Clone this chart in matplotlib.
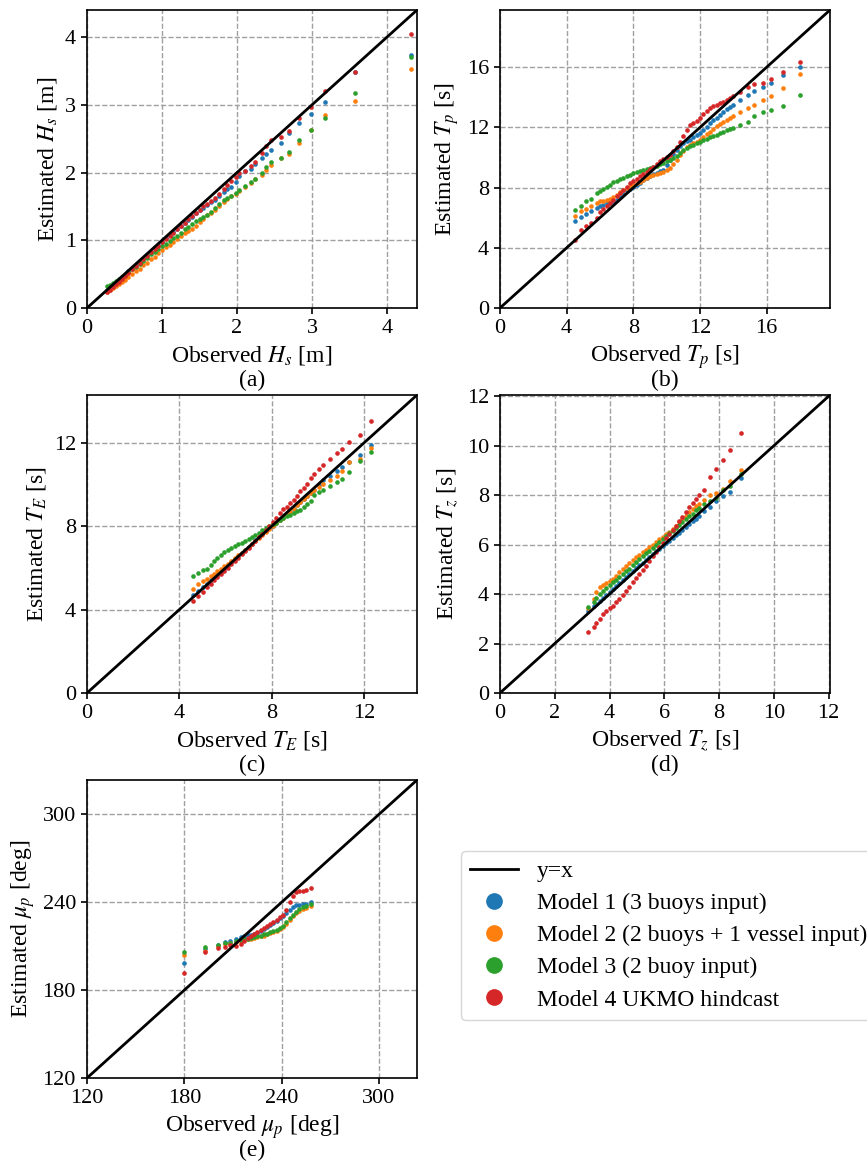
import matplotlib
matplotlib.use("Agg")
import matplotlib.pyplot as plt
from matplotlib.lines import Line2D

plt.rcParams["font.family"] = ["Liberation Serif", "DejaVu Serif"]
plt.rcParams["mathtext.fontset"] = "stix"
plt.rcParams["font.size"] = 16

MODEL_LABELS = ["Model 1 (3 buoys input)",
                "Model 2 (2 buoys + 1 vessel input)",
                "Model 3 (2 buoy input)",
                "Model 4 UKMO hindcast"]
MODEL_COLORS = ["tab:blue", "tab:orange", "tab:green", "tab:red"]

# --- (a) significant wave height Hs [m], quantiles ---
hs_obs = [0.26, 0.30, 0.34, 0.38, 0.42, 0.46, 0.50, 0.55, 0.60, 0.65,
          0.70, 0.75, 0.80, 0.85, 0.90, 0.95, 1.00, 1.05, 1.10, 1.15,
          1.20, 1.25, 1.30, 1.35, 1.40, 1.45, 1.50, 1.55, 1.60, 1.65,
          1.70, 1.76, 1.82, 1.87, 1.92, 1.98, 2.03, 2.10, 2.18, 2.24,
          2.33, 2.39, 2.45, 2.58, 2.69, 2.83, 2.99, 3.17, 3.57, 4.32]
hs_m1 = [0.26, 0.29, 0.33, 0.37, 0.41, 0.45, 0.49, 0.54, 0.59, 0.64,
         0.68, 0.73, 0.78, 0.83, 0.88, 0.93, 0.98, 1.03, 1.08, 1.12,
         1.17, 1.21, 1.26, 1.30, 1.35, 1.40, 1.44, 1.48, 1.52, 1.56,
         1.60, 1.66, 1.72, 1.76, 1.79, 1.86, 1.95, 2.02, 2.05, 2.13,
         2.21, 2.27, 2.34, 2.44, 2.59, 2.73, 2.86, 3.04, 3.49, 3.73]
hs_m2 = [0.23, 0.26, 0.29, 0.32, 0.35, 0.39, 0.42, 0.46, 0.50, 0.54,
         0.58, 0.63, 0.67, 0.72, 0.76, 0.81, 0.86, 0.90, 0.93, 0.97,
         1.02, 1.06, 1.11, 1.14, 1.17, 1.21, 1.27, 1.32, 1.37, 1.41,
         1.45, 1.51, 1.57, 1.61, 1.65, 1.69, 1.73, 1.79, 1.85, 1.90,
         1.97, 2.04, 2.11, 2.21, 2.28, 2.44, 2.63, 2.85, 3.05, 3.53]
hs_m3 = [0.32, 0.34, 0.37, 0.40, 0.43, 0.46, 0.49, 0.53, 0.57, 0.61,
         0.65, 0.70, 0.74, 0.79, 0.83, 0.87, 0.91, 0.95, 0.99, 1.03,
         1.07, 1.11, 1.16, 1.20, 1.24, 1.28, 1.32, 1.35, 1.38, 1.42,
         1.47, 1.54, 1.59, 1.63, 1.66, 1.70, 1.74, 1.80, 1.86, 1.91,
         2.00, 2.08, 2.15, 2.21, 2.31, 2.48, 2.63, 2.81, 3.17, 3.71]
hs_m4 = [0.24, 0.27, 0.31, 0.35, 0.39, 0.43, 0.47, 0.52, 0.57, 0.62,
         0.67, 0.72, 0.77, 0.82, 0.87, 0.92, 0.97, 1.02, 1.07, 1.11,
         1.16, 1.21, 1.26, 1.31, 1.36, 1.41, 1.45, 1.50, 1.53, 1.58,
         1.63, 1.69, 1.76, 1.82, 1.87, 1.93, 1.99, 2.03, 2.09, 2.16,
         2.29, 2.39, 2.48, 2.53, 2.62, 2.80, 2.97, 3.20, 3.49, 4.05]

# --- (b) peak period Tp [s] ---
tp_obs = [4.50, 4.86, 5.14, 5.46, 5.80, 6.0, 6.2, 6.4, 6.6, 6.8,
          7.0, 7.2, 7.4, 7.6, 7.8, 8.0, 8.2, 8.4, 8.6, 8.8,
          9.0, 9.2, 9.4, 9.6, 9.8, 10.0, 10.2, 10.4, 10.6, 10.8,
          11.0, 11.2, 11.4, 11.6, 11.8, 12.0, 12.2, 12.4, 12.6, 12.8,
          13.0, 13.2, 13.4, 13.6, 13.8, 14.0, 14.4, 14.86, 15.24, 15.76,
          16.26, 16.96, 18.0]
tp_m1 = [5.76, 6.02, 6.27, 6.42, 6.62, 6.75, 6.86, 6.95, 7.00, 7.08,
         7.20, 7.40, 7.60, 7.75, 7.90, 8.06, 8.20, 8.33, 8.48, 8.62,
         8.76, 8.88, 8.98, 9.08, 9.20, 9.50, 9.85, 10.20, 10.50, 10.75,
         10.95, 11.08, 11.18, 11.35, 11.48, 11.60, 11.82, 12.05, 12.28, 12.46,
         12.65, 12.83, 13.00, 13.20, 13.38, 13.52, 13.83, 14.16, 14.45, 14.70,
         14.98, 15.45, 16.00]
tp_m2 = [6.13, 6.42, 6.57, 6.75, 6.98, 7.08, 7.13, 7.17, 7.25, 7.35,
         7.50, 7.70, 7.86, 7.97, 8.08, 8.18, 8.30, 8.40, 8.52, 8.63,
         8.74, 8.82, 8.88, 8.94, 9.02, 9.15, 9.32, 9.55, 9.85, 10.18,
         10.45, 10.68, 10.85, 10.95, 11.03, 11.15, 11.35, 11.55, 11.72, 11.90,
         12.10, 12.22, 12.38, 12.52, 12.63, 12.76, 13.00, 13.30, 13.50, 13.79,
         14.10, 14.60, 15.54]
tp_m3 = [6.49, 6.75, 7.08, 7.24, 7.64, 7.80, 7.92, 8.05, 8.20, 8.35,
         8.45, 8.58, 8.67, 8.76, 8.85, 8.94, 9.03, 9.10, 9.16, 9.22,
         9.30, 9.37, 9.45, 9.55, 9.65, 9.74, 9.85, 9.97, 10.10, 10.30,
         10.48, 10.66, 10.78, 10.86, 10.93, 11.00, 11.14, 11.24, 11.33, 11.42,
         11.50, 11.60, 11.70, 11.80, 11.88, 11.98, 12.16, 12.36, 12.75, 13.00,
         13.17, 13.43, 14.12]
tp_m4 = [4.55, 5.20, 5.42, 5.65, 5.98, 6.35, 6.55, 6.75, 6.97, 7.20,
         7.42, 7.64, 7.86, 8.05, 8.30, 8.45, 8.59, 8.76, 8.90, 9.05,
         9.22, 9.38, 9.57, 9.76, 9.92, 10.05, 10.18, 10.40, 10.70, 11.00,
         11.40, 11.85, 12.15, 12.28, 12.42, 12.60, 12.90, 13.12, 13.30, 13.40,
         13.52, 13.60, 13.72, 13.84, 13.94, 14.08, 14.35, 14.67, 14.87, 14.98,
         15.20, 15.65, 16.33]

# --- (c) energy period TE [s] ---
te_obs = [4.59, 4.81, 5.03, 5.18, 5.36, 5.50, 5.65, 5.80, 5.95, 6.10,
          6.25, 6.40, 6.55, 6.70, 6.85, 7.00, 7.15, 7.30, 7.45, 7.60,
          7.75, 7.90, 8.05, 8.20, 8.35, 8.50, 8.65, 8.80, 8.95, 9.10,
          9.25, 9.40, 9.55, 9.70, 9.85, 10.05, 10.24, 10.53, 10.82, 11.06,
          11.35, 11.83, 12.29]
te_m1 = [4.72, 4.91, 5.10, 5.25, 5.42, 5.55, 5.68, 5.82, 5.97, 6.12,
         6.27, 6.42, 6.57, 6.72, 6.88, 7.02, 7.17, 7.32, 7.47, 7.62,
         7.76, 7.90, 8.03, 8.16, 8.30, 8.43, 8.57, 8.70, 8.85, 9.00,
         9.15, 9.30, 9.45, 9.60, 9.76, 10.00, 10.20, 10.43, 10.64, 10.85,
         11.09, 11.40, 11.92]
te_m2 = [5.00, 5.25, 5.36, 5.47, 5.60, 5.72, 5.84, 5.96, 6.08, 6.20,
         6.33, 6.46, 6.60, 6.74, 6.88, 7.02, 7.16, 7.30, 7.44, 7.58,
         7.72, 7.86, 8.00, 8.14, 8.28, 8.42, 8.56, 8.70, 8.85, 9.00,
         9.15, 9.30, 9.45, 9.60, 9.72, 9.90, 10.05, 10.20, 10.43, 10.64,
         11.10, 11.23, 11.74]
te_m3 = [5.60, 5.76, 5.89, 5.97, 6.16, 6.32, 6.48, 6.60, 6.76, 6.88,
         6.98, 7.06, 7.14, 7.22, 7.30, 7.39, 7.48, 7.59, 7.70, 7.80,
         7.90, 8.02, 8.10, 8.18, 8.28, 8.38, 8.47, 8.55, 8.63, 8.72,
         8.80, 8.91, 9.05, 9.20, 9.52, 9.63, 9.76, 9.95, 10.11, 10.29,
         10.60, 11.12, 11.58]
te_m4 = [4.40, 4.67, 4.83, 5.07, 5.25, 5.40, 5.55, 5.70, 5.86, 6.02,
         6.18, 6.34, 6.50, 6.66, 6.82, 6.98, 7.14, 7.30, 7.47, 7.64,
         7.82, 8.00, 8.20, 8.42, 8.65, 8.82, 8.93, 9.12, 9.27, 9.45,
         9.67, 9.85, 10.05, 10.33, 10.50, 10.75, 10.95, 11.25, 11.50, 11.73,
         12.03, 12.40, 13.07]

# --- (d) zero-crossing period Tz [s] ---
tz_obs = [3.21, 3.42, 3.52, 3.66, 3.76, 3.88, 4.00, 4.12, 4.24, 4.36,
          4.48, 4.60, 4.72, 4.85, 4.97, 5.09, 5.21, 5.33, 5.45, 5.58,
          5.70, 5.82, 5.94, 6.06, 6.18, 6.30, 6.42, 6.54, 6.66, 6.79,
          6.91, 7.03, 7.15, 7.27, 7.45, 7.67, 7.88, 8.15, 8.39, 8.79]
tz_m1 = [3.30, 3.50, 3.60, 3.74, 3.85, 3.97, 4.09, 4.21, 4.33, 4.44,
         4.56, 4.68, 4.80, 4.92, 5.04, 5.16, 5.27, 5.38, 5.50, 5.62,
         5.73, 5.84, 5.95, 6.05, 6.16, 6.26, 6.37, 6.48, 6.60, 6.72,
         6.83, 6.94, 7.05, 7.17, 7.34, 7.51, 7.78, 7.96, 8.11, 8.70]
tz_m2 = [3.45, 3.80, 4.09, 4.27, 4.36, 4.44, 4.51, 4.62, 4.74, 4.88,
         5.01, 5.13, 5.25, 5.38, 5.49, 5.60, 5.72, 5.80, 5.89, 6.00,
         6.12, 6.22, 6.31, 6.41, 6.52, 6.64, 6.77, 6.90, 7.03, 7.17,
         7.31, 7.45, 7.55, 7.65, 7.82, 8.01, 8.09, 8.26, 8.59, 9.03]
tz_m3 = [3.46, 3.69, 3.84, 4.00, 4.12, 4.26, 4.38, 4.48, 4.58, 4.70,
         4.81, 4.92, 5.03, 5.16, 5.28, 5.40, 5.53, 5.65, 5.76, 5.88,
         5.99, 6.10, 6.21, 6.33, 6.45, 6.57, 6.69, 6.81, 6.92, 7.03,
         7.14, 7.24, 7.38, 7.50, 7.65, 7.78, 7.89, 8.19, 8.39, 8.86]
tz_m4 = [2.45, 2.65, 2.82, 2.99, 3.19, 3.33, 3.43, 3.53, 3.66, 3.80,
         3.97, 4.13, 4.30, 4.47, 4.64, 4.81, 4.98, 5.15, 5.33, 5.53,
         5.71, 5.89, 6.07, 6.25, 6.43, 6.60, 6.77, 6.94, 7.10, 7.31,
         7.51, 7.68, 7.85, 7.99, 8.19, 8.73, 9.07, 9.41, 9.81, 10.53]

# --- (e) peak direction mu_p [deg] ---
mp_obs = [180.0, 192.6, 200.8, 205.4, 208.0, 212.0, 215.0, 217.0, 219.0, 221.0,
          223.0, 225.0, 227.0, 229.0, 231.0, 233.0, 235.0, 237.0, 239.0, 241.0,
          243.0, 245.0, 247.0, 249.0, 251.0, 253.0, 255.0, 258.0]
mp_m1 = [198.7, 208.0, 210.5, 213.0, 213.5, 214.9, 216.5, 217.0, 217.5, 217.8,
         218.2, 219.2, 220.2, 221.5, 222.8, 224.3, 226.0, 227.5, 229.0, 230.5,
         232.5, 235.0, 237.0, 238.0, 238.4, 238.6, 238.9, 240.5]
mp_m2 = [204.0, 206.7, 209.8, 211.5, 212.0, 213.0, 213.8, 214.3, 214.8, 215.2,
         215.6, 216.1, 216.7, 217.3, 218.0, 218.8, 219.6, 220.5, 221.6, 223.0,
         225.5, 228.0, 230.5, 232.5, 234.3, 235.5, 236.2, 237.7]
mp_m3 = [205.8, 209.7, 210.8, 212.0, 212.5, 213.5, 214.2, 214.8, 215.2, 215.6,
         216.1, 216.7, 217.3, 218.0, 218.6, 219.4, 220.3, 221.2, 222.5, 224.0,
         226.5, 229.0, 231.5, 233.5, 235.3, 236.5, 237.2, 238.6]
mp_m4 = [191.4, 205.8, 209.0, 209.7, 210.5, 210.3, 211.3, 213.5, 215.5, 217.2,
         218.5, 219.8, 221.2, 222.6, 224.0, 225.5, 226.8, 228.2, 229.8, 231.5,
         235.0, 240.0, 244.5, 246.8, 247.5, 247.9, 248.2, 249.6]


def _qq_panel(fig, rect, obs, models, lim, ticks, sym, unit, tag):
    ax = fig.add_axes(rect)
    for est, col in zip(models, MODEL_COLORS):
        ax.scatter(obs, est, s=11, color=col, linewidths=0, zorder=3)
    ax.plot(lim, lim, color="black", lw=2, zorder=4)
    ax.set_xlim(lim)
    ax.set_ylim(lim)
    ax.set_xticks(ticks)
    ax.set_yticks(ticks)
    ax.grid(True, ls="--", color="#a0a0a0", lw=1)
    ax.set_axisbelow(True)
    for sp in ax.spines.values():
        sp.set_linewidth(1.2)
    ax.tick_params(width=1.2, length=4.5, labelsize=16)
    ax.set_xlabel(f"Observed {sym} [{unit}]", fontsize=17)
    ax.set_ylabel(f"Estimated {sym} [{unit}]", fontsize=17)
    ax.annotate(tag, xy=(0.5, 0), xycoords="axes fraction",
                xytext=(0, -52), textcoords="offset points",
                ha="center", va="center", fontsize=17)
    return ax


fig = plt.figure(figsize=(8.67, 11.61), dpi=100)

W, H = 330 / 867, 298 / 1161
L1, L2 = 87 / 867, 500 / 867
B1, B2, B3 = (1161 - 308) / 1161, (1161 - 693) / 1161, (1161 - 1078) / 1161

_qq_panel(fig, [L1, B1, W, H], hs_obs, [hs_m1, hs_m2, hs_m3, hs_m4],
          (0, 4.4), [0, 1, 2, 3, 4], "$H_s$", "m", "(a)")
_qq_panel(fig, [L2, B1, W, H], tp_obs, [tp_m1, tp_m2, tp_m3, tp_m4],
          (0, 19.8), [0, 4, 8, 12, 16], "$T_p$", "s", "(b)")
_qq_panel(fig, [L1, B2, W, H], te_obs, [te_m1, te_m2, te_m3, te_m4],
          (0, 14.3), [0, 4, 8, 12], "$T_E$", "s", "(c)")
_qq_panel(fig, [L2, B2, W, H], tz_obs, [tz_m1, tz_m2, tz_m3, tz_m4],
          (0, 12.05), [0, 2, 4, 6, 8, 10, 12], "$T_z$", "s", "(d)")
_qq_panel(fig, [L1, B3, W, H], mp_obs, [mp_m1, mp_m2, mp_m3, mp_m4],
          (120, 323.5), [120, 180, 240, 300], r"$\mu_p$", "deg", "(e)")

handles = [Line2D([], [], color="black", lw=2, label="y=x")]
for lab, col in zip(MODEL_LABELS, MODEL_COLORS):
    handles.append(Line2D([], [], ls="", marker="o", ms=11, color=col, label=lab))
fig.legend(handles=handles, loc="upper left",
           bbox_to_anchor=(461 / 867, 1 - 851 / 1161),
           borderaxespad=0, fontsize=17, labelspacing=0.45)

fig.savefig("out.png", dpi=100)
